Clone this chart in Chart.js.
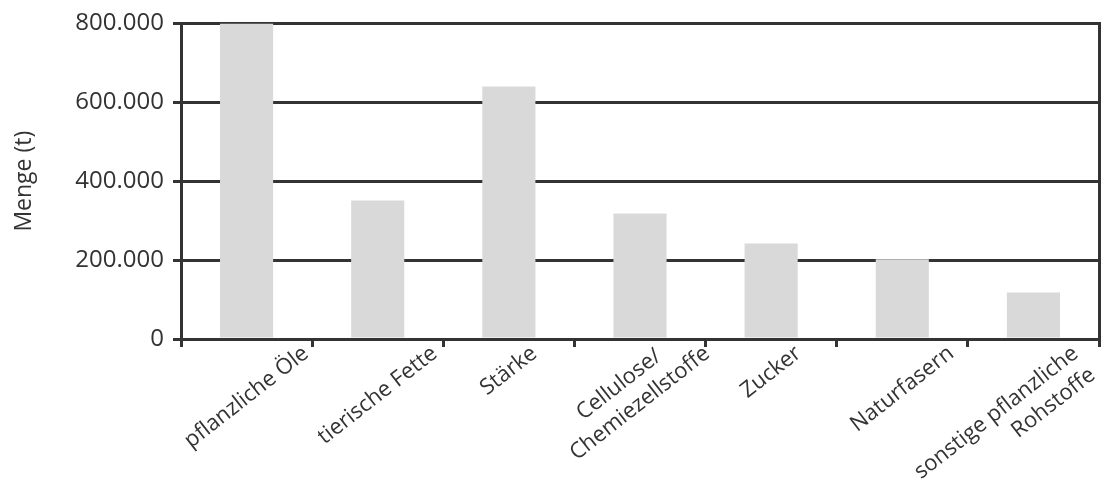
<!DOCTYPE html>
<html>
<head>
<meta charset="utf-8">
<script src="https://cdn.jsdelivr.net/npm/chart.js@4/dist/chart.umd.min.js"></script>
<style>
  html, body { margin: 0; padding: 0; background: #fff; }
  #wrap { width: 1105px; height: 484px; }
</style>
</head>
<body>
<div id="wrap"><canvas id="myChart" width="1105" height="484"></canvas></div>
<script>
// categories (multi-line labels as arrays)
const categories = [
  "pflanzliche Öle",
  "tierische Fette",
  "Stärke",
  ["Cellulose/       ", "Chemiezellstoffe"],
  "Zucker",
  "Naturfasern",
  ["sonstige pflanzliche", "Rohstoffe"],
];
// Menge in t
const amounts = [800000, 351000, 640000, 318000, 242000, 202000, 118000];
const yTicks = [0, 200000, 400000, 600000, 800000];

const ink = "#333333";
const fontFam = "'Open Sans', 'Noto Sans', sans-serif";

function germanNum(v) {
  return String(v).replace(/\B(?=(\d{3})+(?!\d))/g, ".");
}

// rotated x labels: centre the visible rotated text box under its category
// and hang it just below the axis, keep it inside the canvas
const centerRotatedLabels = {
  id: "centerRotatedLabels",
  beforeDraw(chart) {
    const sc = chart.scales.x;
    const items = sc.getLabelItems(chart.chartArea);
    const c = chart.ctx;
    const top = chart.chartArea.bottom + 1;
    items.forEach((it, i) => {
      const lines = [].concat(it.label);
      const lh = it.font.lineHeight;
      const r = it.options.rotation;
      const cos = Math.cos(r), sin = Math.sin(r);
      it.textOffset = lh / 2 - (lines.length * lh) / 2;
      it.options.textAlign = "right";
      const xs = [], ys = [];
      c.save();
      c.font = it.font.string;
      lines.forEach((l, k) => {
        const full = c.measureText(l).width;
        const pad = full - c.measureText(l.trimEnd()).width;
        const v0 = it.textOffset - lh / 2 + k * lh, v1 = v0 + lh;
        [[-full, v0], [-pad, v0], [-full, v1], [-pad, v1]].forEach(([u, v]) => {
          xs.push(u * cos - v * sin);
          ys.push(u * sin + v * cos);
        });
      });
      c.restore();
      const minX = Math.min(...xs), maxX = Math.max(...xs), minY = Math.min(...ys);
      let cx = sc.getPixelForTick(i);
      cx = Math.min(cx, chart.width - 4 - (maxX - minX) / 2);
      it.options.translation = [cx - (minX + maxX) / 2, top - minY];
    });
  },
};

const ctx = document.getElementById("myChart");
const mChart = new Chart(ctx, {
  type: "bar",
  data: {
    labels: categories,
    datasets: [
      {
        label: "Menge (t)",
        data: amounts,
        backgroundColor: "#d9d9d9",
        borderWidth: 0,
        barPercentage: 0.405,
        categoryPercentage: 1,
      },
    ],
  },
  plugins: [centerRotatedLabels],
  options: {
    responsive: false,
    animation: false,
    layout: { padding: { top: 22, right: 6, left: 0, bottom: 0 } },
    plugins: { legend: { display: false }, tooltip: { enabled: false } },
    scales: {
      x: {
        grid: {
          offset: true,
          drawOnChartArea: false,
          drawTicks: true,
          tickLength: 8,
          color: ink,
          lineWidth: 3,
        },
        border: { display: true, color: ink, width: 3 },
        ticks: {
          autoSkip: false,
          minRotation: 38,
          maxRotation: 38,
          color: ink,
          font: { family: fontFam, size: 22, lineHeight: 1.25 },
        },
        afterFit: (scale) => {
          scale.height = 484 - 339;
        },
      },
      y: {
        min: 0,
        max: 800000,
        afterBuildTicks: (scale) => {
          scale.ticks = yTicks.map((v) => ({ value: v }));
        },
        grid: { color: ink, lineWidth: 3, tickLength: 8 },
        border: { display: true, color: ink, width: 3 },
        ticks: {
          padding: 9,
          color: ink,
          font: { family: fontFam, size: 24 },
          callback: (v) => germanNum(v),
        },
        title: {
          display: true,
          text: "Menge (t)",
          color: ink,
          font: { family: fontFam, size: 23 },
          padding: { top: 11, bottom: 0 },
        },
        afterFit: (scale) => {
          scale.width = 181;
        },
      },
      yRight: {
        position: "right",
        min: 0,
        max: 800000,
        grid: { display: false },
        border: { display: true, color: ink, width: 3 },
        ticks: { display: false },
        afterFit: (scale) => {
          scale.width = 0;
        },
      },
    },
  },
});
</script>
</body>
</html>
